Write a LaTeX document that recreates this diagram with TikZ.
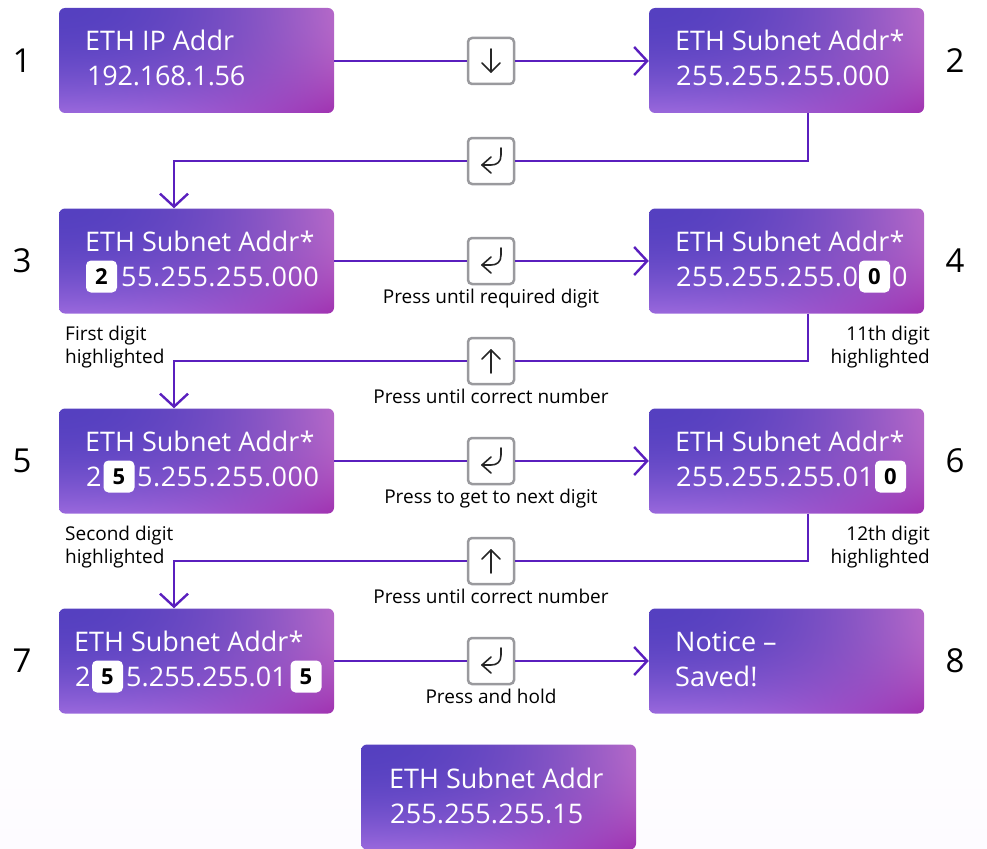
\documentclass[tikz,border=0pt]{standalone}
\usepackage{fontspec}
\setmainfont{Open Sans}
\usetikzlibrary{arrows.meta}

\definecolor{wire}{HTML}{5A1FBE}
\definecolor{keyedge}{HTML}{9A9A9E}
\definecolor{pagelilac}{HTML}{FDFBFF}

\newcommand{\flashchan}[4]{2 copy mul #4 mul 2 index #2 mul add 1 index #3 mul add #1 add 3 1 roll }
\pgfdeclarefunctionalshading{flashgrad}{\pgfpointorigin}{\pgfpoint{100bp}{100bp}}{}{
  25 sub 50 div 1 exch sub dup mul exch 25 sub 50 div dup mul exch
  \flashchan{.333}{.373}{.271}{-.350}
  \flashchan{.251}{.157}{.157}{-.372}
  \flashchan{.753}{.031}{.110}{-.204}
  pop pop
}

\tikzset{
  flashbox/.style={shade,shading=flashgrad,rounded corners=6pt,minimum width=275pt,minimum height=105pt,inner sep=0pt},
  boxtext/.style={text=white,anchor=base west,inner sep=0pt,font=\fontsize{27}{30}\selectfont},
  widenum/.style={boxtext,font=\fontsize{27}{30}\selectfont\addfontfeature{LetterSpace=1.8}},
  hldigit/.style={fill=white,text=black,rounded corners=5pt,minimum width=31pt,minimum height=32pt,inner sep=0pt,font=\fontsize{22}{24}\selectfont\bfseries},
  keybox/.style={draw=keyedge,fill=white,line width=2.5pt,rounded corners=4pt,minimum size=46pt,inner sep=0pt},
  keyicon/.style={draw=black!85,line width=1.6pt,line cap=round,line join=round},
  stepno/.style={font=\fontsize{33}{35}\selectfont,inner sep=0pt},
  note/.style={font=\fontsize{19}{21}\selectfont,inner sep=0pt},
  wireline/.style={draw=wire,line width=2.4pt},
  wirearrow/.style={draw=wire,line width=2.4pt,-{Straight Barb[length=13pt,width=28pt,line width=2.4pt]}},
}

\newcommand{\returnicon}[1]{\draw[keyicon] ([shift={(10,-13)}]#1.center) -- ([shift={(10,-6)}]#1.center) .. controls ([shift={(10,1)}]#1.center) and ([shift={(6,4)}]#1.center) .. ([shift={(0,4)}]#1.center) -- ([shift={(-9,4)}]#1.center);
\draw[keyicon] ([shift={(0,-4)}]#1.center) -- ([shift={(-9,4)}]#1.center) -- ([shift={(0,12)}]#1.center);}
\newcommand{\downicon}[1]{\draw[keyicon] ([shift={(0,-12)}]#1.center) -- ([shift={(0,11)}]#1.center);
\draw[keyicon] ([shift={(-9,2)}]#1.center) -- ([shift={(0,11)}]#1.center) -- ([shift={(9,2)}]#1.center);}
\newcommand{\upicon}[1]{\draw[keyicon] ([shift={(0,12)}]#1.center) -- ([shift={(0,-11)}]#1.center);
\draw[keyicon] ([shift={(-9,-2)}]#1.center) -- ([shift={(0,-11)}]#1.center) -- ([shift={(9,-2)}]#1.center);}

\begin{document}
\begin{tikzpicture}[x=1pt,y=-1pt]
\useasboundingbox (0,0) rectangle (987,848);
\shade[top color=white,bottom color=pagelilac] (0,690) rectangle (987,848);

% boxes
\node[flashbox] (box1) at (196.5,60.5) {};
\node[flashbox] (box2) at (786.5,60.5) {};
\node[flashbox] (box3) at (196.5,261) {};
\node[flashbox] (box4) at (786.5,261) {};
\node[flashbox] (box5) at (196.5,461) {};
\node[flashbox] (box6) at (786.5,461) {};
\node[flashbox] (box7) at (196.5,661) {};
\node[flashbox] (box8) at (786.5,661) {};
\node[flashbox] (box9) at (498.5,797) {};

% box texts
\node[boxtext] (ipname) at (85,51) {ETH IP Addr};
\node[boxtext,font=\fontsize{27}{30}\selectfont\addfontfeature{LetterSpace=-0.8}] (ipval) at (87,86) {192.168.1.56};
\node[boxtext] (name2) at (675,51) {ETH Subnet Addr*};
\node[widenum] (val2) at (676,86) {255.255.255.000};
\node[boxtext] (name3) at (85,251.5) {ETH Subnet Addr*};
\node[hldigit] (dig3) at (101.5,276.5) {2};
\node[widenum] (val3) at (121,286.5) {55.255.255.000};
\node[boxtext] (name4) at (675,251.5) {ETH Subnet Addr*};
\node[widenum] (val4) at (676,286.5) {255.255.255.0};
\node[hldigit] (dig4) at (874.5,276.5) {0};
\node[boxtext] (end4) at (892,286.5) {0};
\node[boxtext] (name5) at (85,451.5) {ETH Subnet Addr*};
\node[boxtext] (head5) at (86,486.5) {2};
\node[hldigit] (dig5) at (119,476.5) {5};
\node[widenum] (val5) at (137,486.5) {5.255.255.000};
\node[boxtext] (name6) at (675,451.5) {ETH Subnet Addr*};
\node[widenum] (val6) at (676,486.5) {255.255.255.01};
\node[hldigit] (dig6) at (890.5,476.5) {0};
\node[boxtext] (name7) at (74,651.5) {ETH Subnet Addr*};
\node[boxtext] (head7) at (75,686.5) {2};
\node[hldigit] (dig7a) at (107.5,676.5) {5};
\node[boxtext] (val7) at (126,686.5) {5.255.255.01};
\node[hldigit] (dig7b) at (306,676.5) {5};
\node[boxtext] (name8) at (675,651.5) {Notice --};
\node[boxtext] (val8) at (675,686.5) {Saved!};
\node[boxtext] (name9) at (389,788) {ETH Subnet Addr};
\node[boxtext,font=\fontsize{27}{30}\selectfont\addfontfeature{LetterSpace=.5}] (val9) at (390,823) {255.255.255.15};

% step numbers
\node[stepno] (no1) at (22,61) {1};
\node[stepno] (no2) at (955,61) {2};
\node[stepno] (no3) at (22,261) {3};
\node[stepno] (no4) at (955,261) {4};
\node[stepno] (no5) at (22,461) {5};
\node[stepno] (no6) at (955,461) {6};
\node[stepno] (no7) at (22,661) {7};
\node[stepno] (no8) at (955,661) {8};

% keys
\node[keybox] (key1) at (491,61) {};
\node[keybox] (key2) at (491,161) {};
\node[keybox] (key3) at (491,261) {};
\node[keybox] (key4) at (491,361) {};
\node[keybox] (key5) at (491,461) {};
\node[keybox] (key6) at (491,561) {};
\node[keybox] (key7) at (491,661) {};
\downicon{key1}
\returnicon{key2}
\returnicon{key3}
\upicon{key4}
\returnicon{key5}
\upicon{key6}
\returnicon{key7}

% turning points
\coordinate (turn2) at (808,161);
\coordinate (land3) at (174,161);
\coordinate (turn4) at (808,361);
\coordinate (land5) at (174,361);
\coordinate (turn6) at (808,561);
\coordinate (land7) at (174,561);

% connectors
\draw[wireline] (box1.east |- key1) -- (key1);
\draw[wirearrow] (key1) -- (box2.west |- key1);
\draw[wireline] (box2.south -| turn2) -- (turn2) -- (key2);
\draw[wirearrow] (key2) -- (land3) -- (box3.north -| land3);
\draw[wireline] (box3) -- (key3);
\draw[wirearrow] (key3) -- (box4);
\draw[wireline] (box4.south -| turn4) -- (turn4) -- (key4);
\draw[wirearrow] (key4) -- (land5) -- (box5.north -| land5);
\draw[wireline] (box5) -- (key5);
\draw[wirearrow] (key5) -- (box6);
\draw[wireline] (box6.south -| turn6) -- (turn6) -- (key6);
\draw[wirearrow] (key6) -- (land7) -- (box7.north -| land7);
\draw[wireline] (box7) -- (key7);
\draw[wirearrow] (key7) -- (box8);

% notes
\node[note,anchor=base] (hint3) at (491,303) {Press until required digit};
\node[note,anchor=base] (hint4) at (491,403) {Press until correct number};
\node[note,anchor=base] (hint5) at (491,503) {Press to get to next digit};
\node[note,anchor=base] (hint6) at (491,603) {Press until correct number};
\node[note,anchor=base] (hint7) at (491,703) {Press and hold};
\node[note,anchor=base west] (first1) at (65,340) {First digit};
\node[note,anchor=base west] (first2) at (65,363) {highlighted};
\node[note,anchor=base east] (elev1) at (930,340) {11th digit};
\node[note,anchor=base east] (elev2) at (930,363) {highlighted};
\node[note,anchor=base west] (second1) at (65,540) {Second digit};
\node[note,anchor=base west] (second2) at (65,563) {highlighted};
\node[note,anchor=base east] (twelve1) at (930,540) {12th digit};
\node[note,anchor=base east] (twelve2) at (930,563) {highlighted};
\end{tikzpicture}
\end{document}
